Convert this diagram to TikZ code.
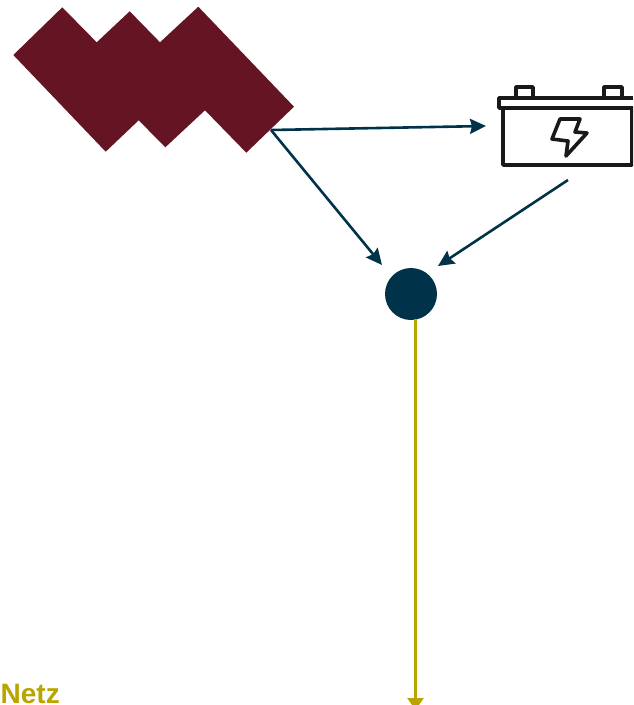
\documentclass[tikz,border=0pt]{standalone}
\usepackage{fontspec}
\setmainfont{Liberation Sans}
\usetikzlibrary{arrows.meta}
\definecolor{enDunkel}{HTML}{003349}
\definecolor{enRot}{HTML}{651423}
\definecolor{enGold}{HTML}{B9A400}
\tikzset{
  fluss/.style={enDunkel, line width=2.6pt, -{Stealth[length=16pt,width=15pt,inset=2pt]}},
  netzfluss/.style={enGold, line width=2.8pt, -{Triangle[length=12pt,width=16pt]}},
  batt/.style={line width=3.6pt, line join=round, black!90},
}
\begin{document}
\begin{tikzpicture}[x=1pt,y=-1pt]
  \clip (0,0) rectangle (633,705);
  \useasboundingbox (0,0) rectangle (633,705);
  % Anlage
  \fill[enRot] (62.3,7.3)--(96.7,42.3)--(129.7,11.3)--(160,42.3)--(198.3,6.7)--(294,106.7)
    --(246.3,152.7)--(205,110.3)--(165.3,147.3)--(138.7,120.3)--(105.7,151.7)--(13.3,55)--cycle;
  % Batterie
  \draw[batt] (503,108) rectangle (632,165);
  \draw[batt] (633,98)--(499,98)--(499,108)--(633,108);
  \draw[batt] (516,98)--(516,87)--(533,87)--(533,98);
  \draw[batt] (604,98)--(604,87)--(622,87)--(622,98);
  \draw[batt] (560,119)--(580,119)--(575,132)--(587,133)--(566,156)--(568,141)--(552,139)--cycle;
  % Knoten und Anschlusspunkte
  \node[circle,fill=enDunkel,minimum size=52pt,inner sep=0pt] (knoten) at (411,294) {};
  \coordinate (anlageAus) at (271,130);
  \coordinate (battEin) at (486,126);
  \coordinate (battAus) at (568,180);
  \coordinate (knotenL) at (382,265);
  \coordinate (knotenR) at (438,266);
  \coordinate (knotenAus) at (415.5,319);
  \coordinate (netzEin) at (415.5,710);
  \node[font=\bfseries\fontsize{28}{28}\selectfont,text=enGold,anchor=base west,inner sep=0pt] (netz) at (0.5,703) {Netz};
  % Fluesse
  \draw[fluss] (anlageAus)--(battEin);
  \draw[fluss] (anlageAus)--(knotenL);
  \draw[fluss] (battAus)--(knotenR);
  \draw[netzfluss] (knotenAus)--(netzEin);
\end{tikzpicture}
\end{document}
